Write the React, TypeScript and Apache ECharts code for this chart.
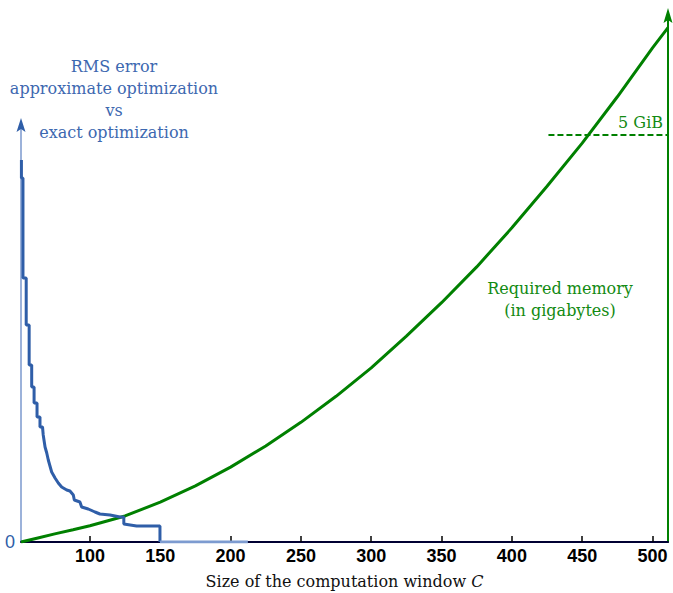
import React, { useEffect, useRef } from "react";
import * as echarts from "echarts";

// x axis: size of the computation window C
const C_MIN = 51;
const C_MAX = 511;
const xTickValues = [100, 150, 200, 250, 300, 350, 400, 450, 500];

// RMS error (approximate vs exact optimization), arbitrary units
const rmsWindow = [
  51.3, 51.3, 52.4, 52.4, 54.7, 54.7, 56.8, 56.8, 58.6, 58.6, 60.3, 60.3, 62.4, 62.4,
  64.5, 64.5, 66.3, 66.8, 68.1, 69.3, 70.4, 72.8, 75.2, 77.5, 79.9, 83.5, 85.8, 88.2,
  88.9, 92.9, 94.1, 98.8, 103.6, 107.1, 114.3, 121.4, 124.1, 124.1, 133.2, 149.8, 149.8,
];
const rmsError = [
  0.382, 0.364, 0.364, 0.264, 0.264, 0.217, 0.217, 0.177, 0.177, 0.155, 0.155, 0.139, 0.139, 0.125,
  0.125, 0.115, 0.115, 0.107, 0.095, 0.089, 0.082, 0.07, 0.064, 0.059, 0.055, 0.052, 0.051, 0.047,
  0.042, 0.04, 0.035, 0.033, 0.03, 0.028, 0.027, 0.025, 0.025, 0.018, 0.016, 0.016, 0,
];
const rmsTailWindow = [149.8, 212.3];
const rmsTailError = [0, 0];
const RMS_AXIS_MAX = 0.417;

// Required memory (gigabytes)
const memWindow = [51, 63, 75, 88, 100, 125, 150, 175, 200, 225, 250, 275, 300, 325, 350, 375, 400, 425, 450, 475, 500, 511];
const memGB = [0, 0.05, 0.1, 0.15, 0.2, 0.32, 0.49, 0.69, 0.92, 1.18, 1.47, 1.79, 2.14, 2.53, 2.94, 3.38, 3.86, 4.37, 4.9, 5.47, 6.07, 6.32];
const MEM_AXIS_MAX = 6.45;
const memLimitGB = 5;
const memLimitLabel = "5 GiB";
const memLimitFrom = 426;

const blueTitle = ["RMS error", "approximate optimization", "vs", "exact optimization"];
const greenTitle = ["Required memory", "(in gigabytes)"];

const BLUE = "#2f5ea8";
const GREEN = "#008000";
const SERIF = "DejaVu Serif";
const SANS = "Liberation Sans, Arial, sans-serif";

export default function App() {
  const ref = useRef<HTMLDivElement>(null);
  useEffect(() => {
    if (!ref.current) return;
    const chart = echarts.init(ref.current, undefined, { renderer: "svg" });
    const zip = (xs: number[], ys: number[]) => xs.map((x, i) => [x, ys[i]]);
    const graphics: any[] = [];
    blueTitle.forEach((t, i) => {
      graphics.push({
        type: "text",
        x: 114,
        y: 66 + i * 22,
        style: {
          text: t,
          fill: "#3d68b0",
          font: `16px ${SERIF}`,
          textAlign: "center",
          textVerticalAlign: "middle",
        },
      });
    });
    greenTitle.forEach((t, i) => {
      graphics.push({
        type: "text",
        x: 560,
        y: 288 + i * 22,
        style: {
          text: t,
          fill: "#128a12",
          font: `16px ${SERIF}`,
          textAlign: "center",
          textVerticalAlign: "middle",
        },
      });
    });
    graphics.push({
      type: "polygon",
      shape: { points: [[21, 118], [25.5, 132], [21, 129], [16.5, 132]] },
      style: { fill: BLUE },
      z: 10,
    });
    graphics.push({
      type: "polygon",
      shape: { points: [[668, 8], [672.5, 23], [668, 20], [663.5, 23]] },
      style: { fill: GREEN },
      z: 10,
    });

    chart.setOption({
      animation: false,
      backgroundColor: "#ffffff",
      grid: [
        { left: 21, right: 5, top: 125, bottom: 51, outerBoundsMode: "none", containLabel: false },
        { left: 21, right: 5, top: 17, bottom: 51, outerBoundsMode: "none", containLabel: false },
      ],
      xAxis: [
        {
          gridIndex: 0,
          type: "value",
          min: C_MIN,
          max: C_MAX,
          name: "{a|Size of the computation window }{i|C}",
          nameLocation: "middle",
          nameGap: 31,
          nameTextStyle: {
            rich: {
              a: { fontFamily: SERIF, fontSize: 16, color: "#111" },
              i: { fontFamily: SERIF, fontSize: 16, fontStyle: "italic", color: "#111" },
            },
          },
          axisLine: { show: true, lineStyle: { color: "#000033", width: 2 } },
          axisTick: { show: true, inside: true, length: 6, customValues: xTickValues, lineStyle: { color: "#000", width: 1.5 } },
          axisLabel: { customValues: xTickValues, fontFamily: SANS, fontWeight: "bold", fontSize: 18, color: "#000", margin: 5 },
          splitLine: { show: false },
        },
        { gridIndex: 1, type: "value", min: C_MIN, max: C_MAX, show: false },
      ],
      yAxis: [
        {
          gridIndex: 0,
          type: "value",
          min: 0,
          max: RMS_AXIS_MAX,
          position: "left",
          axisLine: { show: true, lineStyle: { color: "#9cb2da", width: 2 } },
          axisTick: { show: false },
          splitLine: { show: false },
          axisLabel: { customValues: [0], color: BLUE, fontSize: 18, fontFamily: SANS, margin: 6 },
        },
        {
          gridIndex: 1,
          type: "value",
          min: 0,
          max: MEM_AXIS_MAX,
          position: "right",
          axisLine: { show: true, onZero: false, lineStyle: { color: GREEN, width: 2 } },
          axisTick: { show: false },
          axisLabel: { show: false },
          splitLine: { show: false },
        },
      ],
      series: [
        {
          type: "line",
          xAxisIndex: 1,
          yAxisIndex: 1,
          data: zip(memWindow, memGB),
          showSymbol: false,
          lineStyle: { color: GREEN, width: 3 },
          z: 2,
          markLine: {
            silent: true,
            symbol: ["none", "none"],
            lineStyle: { color: GREEN, type: [6, 3], width: 1.8 },
            label: {
              show: true,
              position: "insideEndTop",
              formatter: memLimitLabel,
              color: "#128a12",
              fontFamily: SERIF,
              fontSize: 16,
            },
            data: [[{ coord: [memLimitFrom, memLimitGB] }, { coord: [C_MAX, memLimitGB] }]],
          },
        },
        {
          type: "line",
          xAxisIndex: 0,
          yAxisIndex: 0,
          data: zip(rmsWindow, rmsError),
          showSymbol: false,
          lineStyle: { color: BLUE, width: 3 },
          z: 3,
        },
        {
          type: "line",
          xAxisIndex: 0,
          yAxisIndex: 0,
          data: zip(rmsTailWindow, rmsTailError),
          showSymbol: false,
          lineStyle: { color: "#7d9bd0", width: 3 },
          z: 3,
        },
      ],
      graphic: graphics,
    });
    return () => chart.dispose();
  }, []);
  return <div ref={ref} style={{ position: "fixed", left: 0, top: 0, width: 673, height: 593, background: "#fff" }} />;
}
